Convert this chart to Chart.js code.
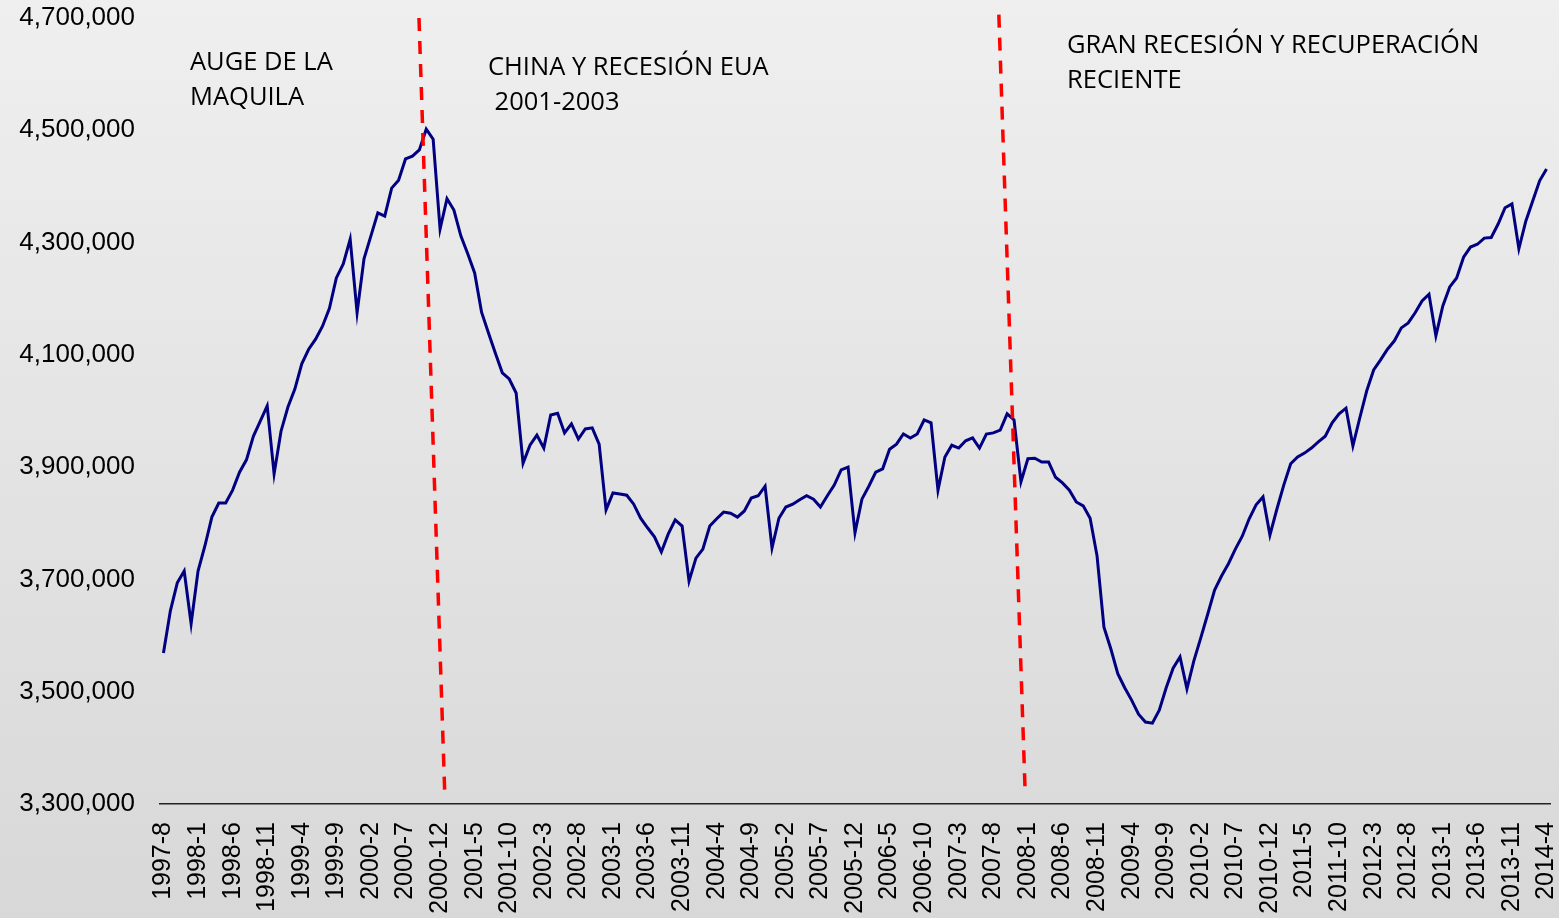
<!DOCTYPE html>
<html>
<head>
<meta charset="utf-8">
<script src="https://cdn.jsdelivr.net/npm/chart.js@4"></script>
<style>
  html, body { margin: 0; padding: 0; }
  body { width: 1559px; height: 918px; overflow: hidden; background: linear-gradient(#efefef, #d8d8d8); }
  canvas { display: block; }
</style>
</head>
<body>
<canvas id="empleo" width="1559" height="918"></canvas>
<script>
// Monthly series, 1997-8 .. 2014-4
const startYear = 1997;
const startMonth = 8;
const employment = [
  3569000, 3644000, 3694000, 3715000, 3621000, 3715000, 3760000, 3811000, 3836000, 3836000,
  3859000, 3891000, 3913000, 3955000, 3982000, 4009000, 3888000, 3964000, 4007000, 4039000,
  4084000, 4110000, 4128000, 4151000, 4183000, 4237000, 4262000, 4306000, 4175000, 4271000,
  4312000, 4353000, 4347000, 4397000, 4411000, 4449000, 4454000, 4465000, 4502000, 4484000,
  4324000, 4378000, 4358000, 4312000, 4280000, 4246000, 4176000, 4139000, 4103000, 4068000,
  4057000, 4032000, 3907000, 3939000, 3957000, 3934000, 3993000, 3996000, 3961000, 3977000,
  3950000, 3968000, 3970000, 3941000, 3824000, 3854000, 3852000, 3850000, 3834000, 3809000,
  3792000, 3776000, 3749000, 3781000, 3806000, 3795000, 3697000, 3738000, 3754000, 3795000,
  3808000, 3820000, 3818000, 3811000, 3822000, 3845000, 3849000, 3866000, 3756000, 3809000,
  3829000, 3834000, 3842000, 3849000, 3843000, 3829000, 3849000, 3868000, 3895000, 3900000,
  3783000, 3843000, 3866000, 3891000, 3897000, 3932000, 3941000, 3959000, 3952000, 3959000,
  3984000, 3979000, 3859000, 3918000, 3939000, 3934000, 3947000, 3952000, 3934000, 3959000,
  3961000, 3966000, 3995000, 3984000, 3874000, 3915000, 3916000, 3909000, 3909000, 3882000,
  3872000, 3859000, 3838000, 3831000, 3809000, 3742000, 3615000, 3576000, 3532000, 3507000,
  3485000, 3460000, 3446000, 3444000, 3467000, 3507000, 3542000, 3562000, 3505000, 3555000,
  3596000, 3638000, 3681000, 3706000, 3728000, 3754000, 3777000, 3808000, 3833000, 3847000,
  3779000, 3825000, 3868000, 3906000, 3918000, 3925000, 3934000, 3945000, 3955000, 3979000,
  3995000, 4005000, 3938000, 3988000, 4036000, 4073000, 4091000, 4110000, 4125000, 4148000,
  4157000, 4175000, 4196000, 4208000, 4134000, 4187000, 4221000, 4237000, 4274000, 4292000,
  4297000, 4308000, 4309000, 4333000, 4362000, 4369000, 4289000, 4338000, 4374000, 4410000,
  4431000
];

const yMin = 3300000;
const yMax = 4700000;
const yStep = 200000;
const labelEvery = 5;

// period dividers: [category index, value] for top and bottom ends
const dividerTop = [[36.95, 4700000], [120.8, 4706000]];
const dividerBottom = [[40.7, 3311000], [124.6, 3323000]];

const periodText = [
  { lines: ['AUGE DE LA', 'MAQUILA'], x: 190, y: 70 },
  { lines: ['CHINA Y RECESIÓN EUA', ' 2001-2003'], x: 488, y: 75 },
  { lines: ['GRAN RECESIÓN Y RECUPERACIÓN', 'RECIENTE'], x: 1067, y: 53 }
];

const categories = [];
for (let i = 0; i < employment.length; i++) {
  const m = startMonth - 1 + i;
  categories.push((startYear + Math.floor(m / 12)) + '-' + (m % 12 + 1));
}

const backgroundPlugin = {
  id: 'bg',
  beforeDraw(chart) {
    const ctx = chart.ctx;
    const g = ctx.createLinearGradient(0, 0, 0, chart.height);
    g.addColorStop(0, '#efefef');
    g.addColorStop(1, '#d8d8d8');
    ctx.save();
    ctx.fillStyle = g;
    ctx.fillRect(0, 0, chart.width, chart.height);
    ctx.restore();
  }
};

const annotationPlugin = {
  id: 'periods',
  afterDatasetsDraw(chart) {
    const ctx = chart.ctx;
    const xs = chart.scales.x;
    const ys = chart.scales.y;
    ctx.save();
    ctx.strokeStyle = '#ff0000';
    ctx.lineWidth = 3.5;
    ctx.setLineDash([13, 10]);
    for (let k = 0; k < dividerTop.length; k++) {
      ctx.beginPath();
      ctx.moveTo(xs.getPixelForValue(dividerTop[k][0]), ys.getPixelForValue(dividerTop[k][1]));
      ctx.lineTo(xs.getPixelForValue(dividerBottom[k][0]), ys.getPixelForValue(dividerBottom[k][1]));
      ctx.stroke();
    }
    ctx.setLineDash([]);
    ctx.fillStyle = '#000000';
    ctx.font = '25.5px "Open Sans"';
    ctx.textBaseline = 'alphabetic';
    ctx.textAlign = 'left';
    periodText.forEach(t => {
      t.lines.forEach((line, j) => ctx.fillText(line, t.x, t.y + j * 35));
    });
    ctx.restore();
  }
};

new Chart(document.getElementById('empleo'), {
  type: 'line',
  data: {
    labels: categories,
    datasets: [{
      data: employment,
      borderColor: '#000080',
      borderWidth: 3,
      pointRadius: 0,
      tension: 0,
      fill: false
    }]
  },
  options: {
    responsive: false,
    animation: false,
    devicePixelRatio: 1,
    layout: { padding: { top: 18, right: 9, left: 0, bottom: 0 } },
    plugins: {
      legend: { display: false },
      tooltip: { enabled: false }
    },
    scales: {
      x: {
        offset: true,
        grid: { display: false, drawTicks: false },
        border: { display: true, color: '#222222', width: 1.5 },
        ticks: {
          autoSkip: false,
          minRotation: 90,
          maxRotation: 90,
          padding: 18,
          color: '#000000',
          font: { family: '"Liberation Sans", Arial, sans-serif', size: 25 },
          callback: (v, i) => (i % labelEvery === 0 ? categories[i] : '')
        },
        afterFit: s => {
          s.height = 114;
          s.paddingLeft = 0; s.paddingRight = 0; s.paddingTop = 0; s.paddingBottom = 0;
        }
      },
      y: {
        min: yMin,
        max: yMax,
        grid: { display: false, drawTicks: false },
        border: { display: false },
        ticks: {
          stepSize: yStep,
          padding: 25,
          color: '#000000',
          font: { family: '"Liberation Sans", Arial, sans-serif', size: 26 },
          callback: v => v.toLocaleString('en-US')
        },
        afterFit: s => {
          s.width = 160;
          s.paddingLeft = 0; s.paddingRight = 0; s.paddingTop = 0; s.paddingBottom = 0;
        }
      }
    }
  },
  plugins: [backgroundPlugin, annotationPlugin]
});
</script>
</body>
</html>
